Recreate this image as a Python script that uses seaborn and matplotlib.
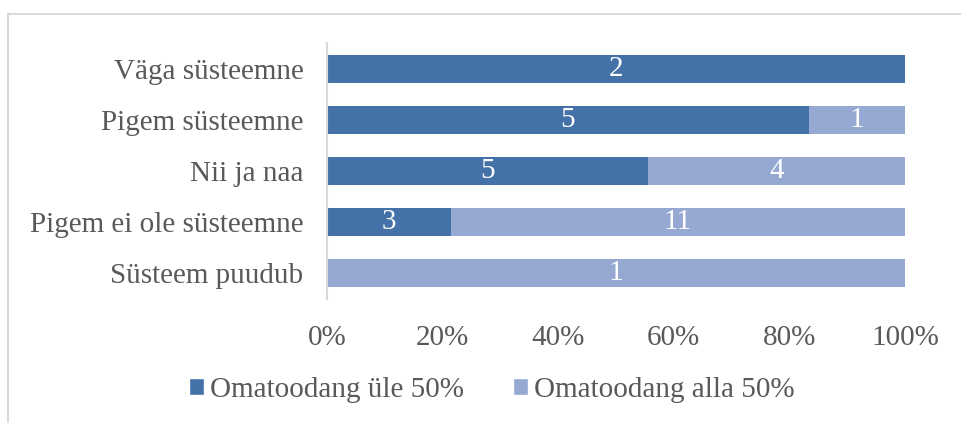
import numpy as np
import pandas as pd
import matplotlib
matplotlib.use('Agg')
import matplotlib.pyplot as plt
import seaborn as sns
from matplotlib.patches import Rectangle, Patch

# -------------------------------
# Data (counts per category)
# -------------------------------
categories = ['Väga süsteemne', 'Pigem süsteemne', 'Nii ja naa',
              'Pigem ei ole süsteemne', 'Süsteem puudub']
over_50 = [2, 5, 5, 3, 0]    # Omatoodang üle 50%
under_50 = [0, 1, 4, 11, 1]  # Omatoodang alla 50%
series_names = ['Omatoodang üle 50%', 'Omatoodang alla 50%']
tick_labels = ['0%', '20%', '40%', '60%', '80%', '100%']

dark = '#4472a8'
light = '#95a9d2'
text_gray = '#595959'

df = pd.DataFrame({'cat': categories, 'over': over_50, 'under': under_50})
df['total'] = df['over'] + df['under']
df['over_share'] = df['over'] / df['total']
df['full'] = 1.0

sns.set_theme(style='white')
plt.rcParams['font.family'] = ['Liberation Serif', 'DejaVu Serif']
fs = 21

fig = plt.figure(figsize=(9.61, 4.23), dpi=100)
ax = fig.add_axes([327 / 961, 1 - 298.5 / 423, 578 / 961, 255 / 423])

# light bar is the full 100%, dark share drawn over it
sns.barplot(data=df, y='cat', x='full', color=light, width=0.55,
            saturation=1, linewidth=0, ax=ax, orient='h')
sns.barplot(data=df, y='cat', x='over_share', color=dark, width=0.55,
            saturation=1, linewidth=0, ax=ax, orient='h')

# segment labels
for i, row in df.iterrows():
    if row['over'] > 0:
        ax.text(row['over_share'] / 2, i, str(row['over']), color='white',
                ha='center', va='center', fontsize=fs)
    if row['under'] > 0:
        ax.text(row['over_share'] + (1 - row['over_share']) / 2, i,
                str(row['under']), color='white', ha='center', va='center',
                fontsize=fs)

ax.set_xlim(0, 1)
ax.set_ylim(4.5, -0.5)
ax.set_xticks(np.linspace(0, 1, 6))
ax.set_xticklabels(tick_labels)
ax.set_xlabel('')
ax.set_ylabel('')
ax.tick_params(axis='x', length=0, pad=19, labelsize=fs, labelcolor=text_gray)
ax.tick_params(axis='y', length=0, pad=17, labelsize=fs, labelcolor=text_gray)
for s in ['top', 'right', 'bottom']:
    ax.spines[s].set_visible(False)
ax.spines['left'].set_color('#d9d9d9')
ax.spines['left'].set_linewidth(1.5)

handles = [Patch(facecolor=dark), Patch(facecolor=light)]
fig.legend(handles, series_names, loc='center', ncol=2, frameon=False,
           bbox_to_anchor=(492 / 961, 1 - 390 / 423), fontsize=fs,
           handlelength=0.5, handleheight=0.5, handletextpad=0.2,
           columnspacing=1.7, labelcolor=text_gray)

# outer chart frame (partially cropped in the original)
fig.add_artist(Rectangle((8 / 961, -0.1), 1.2, 1.1 - 14 / 423,
                         transform=fig.transFigure, fill=False,
                         edgecolor='#d9d9d9', linewidth=1.5))

fig.savefig('out.png', dpi=100)
